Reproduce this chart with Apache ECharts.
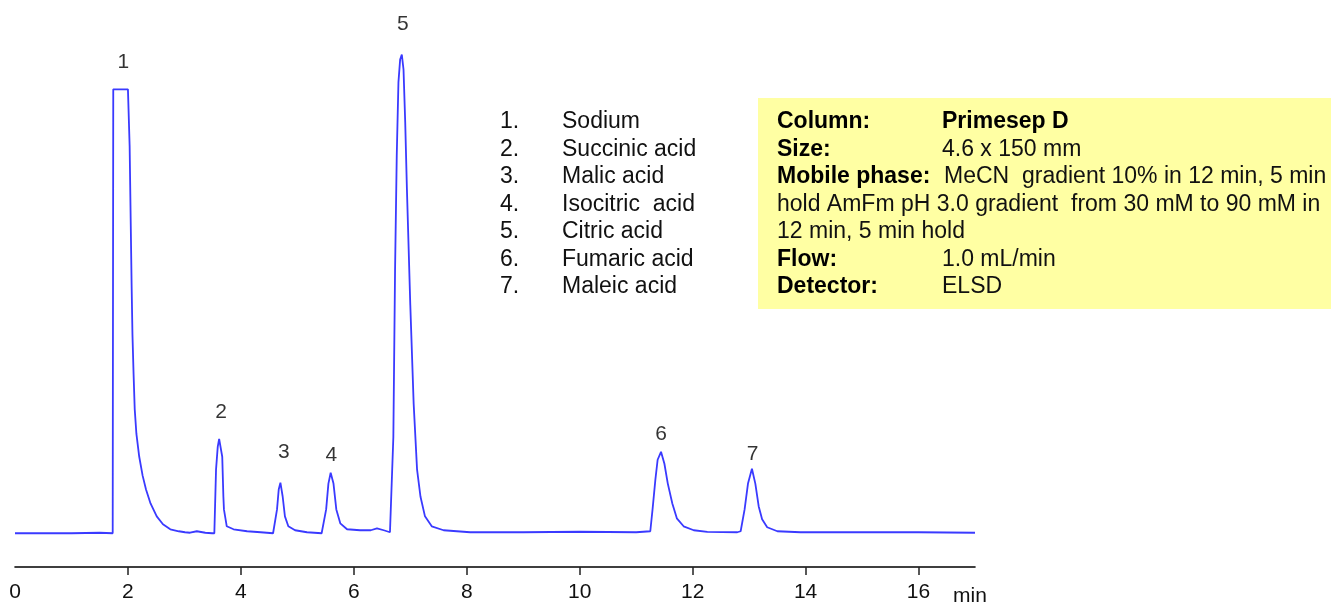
<!DOCTYPE html>
<html>
<head>
<meta charset="utf-8">
<script src="https://cdn.jsdelivr.net/npm/echarts@6/dist/echarts.min.js"></script>
<style>
html,body{margin:0;padding:0;background:#fff;}
#chart{width:1331px;height:603px;}
</style>
</head>
<body>
<div id="chart"></div>
<script>
// Retention time (min) and detector signal (arbitrary units)
var traceTime = [
  0.00, 0.50, 1.00, 1.50, 1.73,
  1.74, 2.00, 2.03, 2.05, 2.065, 2.08, 2.10, 2.12, 2.15, 2.20, 2.26, 2.32, 2.40, 2.51, 2.62, 2.75, 2.90, 3.01, 3.10, 3.22, 3.37, 3.49,
  3.53, 3.56, 3.59, 3.615, 3.63, 3.645, 3.67, 3.69, 3.70, 3.75, 3.87, 4.11, 4.35, 4.57,
  4.59, 4.64, 4.67, 4.70, 4.74, 4.78, 4.84, 4.96, 5.17, 5.43,
  5.45, 5.51, 5.55, 5.59, 5.64, 5.69, 5.76, 5.88, 6.11, 6.30, 6.41, 6.53, 6.64,
  6.67, 6.70, 6.73, 6.76, 6.79, 6.82, 6.85, 6.88, 6.91, 6.94, 7.00, 7.06, 7.12, 7.18, 7.26, 7.38, 7.59, 8.06, 9.00, 10.00, 11.00, 11.25,
  11.29, 11.34, 11.38, 11.44, 11.50, 11.56, 11.64, 11.72, 11.84, 12.02, 12.26, 12.79,
  12.85, 12.92, 12.98, 13.05, 13.11, 13.17, 13.23, 13.32, 13.50, 13.91, 15.00, 16.00, 17.00
];
var traceSignal = [
  0, 0, 0, 0.5, 0,
  447, 447, 390, 310, 250, 200, 160, 125, 100, 77, 58, 44, 30, 17, 9, 4, 2, 1, 0.5, 2, 0.5, 0,
  0, 64, 87, 95, 97, 93, 77, 37, 24, 7, 4, 2, 1, 0,
  0, 24, 44, 51, 37, 17, 7, 3, 1, 0,
  0, 24, 50, 61, 50, 24, 10, 4, 3, 3, 5, 3, 1,
  2, 97, 264, 380, 454, 477, 482, 467, 414, 347, 230, 130, 64, 37, 17, 7, 3, 1, 1, 1.5, 1, 2,
  24, 54, 74, 82, 70, 50, 30, 15, 7, 3, 1.3, 1,
  2, 24, 50, 65, 50, 27, 14, 6, 2, 1, 1, 1, 0.5
];

// Peak number labels
var peakNumbers = ['1', '2', '3', '4', '5', '6', '7'];
var peakLabelTime = [1.92, 3.65, 4.76, 5.60, 6.87, 11.44, 13.06];
var peakLabelHeight = [474, 122, 82, 79, 513, 100, 80];

// Compound list
var legendNumbers = ['1.', '2.', '3.', '4.', '5.', '6.', '7.'];
var legendNames = ['Sodium', 'Succinic acid', 'Malic acid', 'Isocitric  acid', 'Citric acid', 'Fumaric acid', 'Maleic acid'];

// Method conditions
var infoLabels = ['Column:', 'Size:', 'Mobile phase:', '', '', 'Flow:', 'Detector:'];
var infoValues = ['Primesep D', '4.6 x 150 mm', 'MeCN  gradient 10% in 12 min, 5 min', 'hold AmFm pH 3.0 gradient  from 30 mM to 90 mM in', '12 min, 5 min hold', '1.0 mL/min', 'ELSD'];
var infoValueBold = [true, false, false, false, false, false, false];

// x-axis ticks
var tickValues = [0, 2, 4, 6, 8, 10, 12, 14, 16];
var axisUnit = 'min';

var FONT = '"Liberation Sans", Arial, sans-serif';
var FS = 23;
var TXT = '#111';

var lineData = traceTime.map(function (t, i) { return [t, traceSignal[i]]; });
var labelData = peakLabelTime.map(function (t, i) { return { value: [t, peakLabelHeight[i]], name: peakNumbers[i] }; });

var graphics = [];
graphics.push({
  type: 'rect', z: 1,
  shape: { x: 758, y: 98, width: 573, height: 211 },
  style: { fill: '#ffffa3' }
});
var rowY0 = 122, rowStep = 27.5;
legendNumbers.forEach(function (n, i) {
  graphics.push({ type: 'text', z: 5, x: 500, y: rowY0 + i * rowStep,
    style: { text: n, font: FS + 'px ' + FONT, fill: TXT, textVerticalAlign: 'middle', textAlign: 'left' } });
  graphics.push({ type: 'text', z: 5, x: 562, y: rowY0 + i * rowStep,
    style: { text: legendNames[i], font: FS + 'px ' + FONT, fill: TXT, textVerticalAlign: 'middle', textAlign: 'left' } });
});
infoValues.forEach(function (v, i) {
  var y = rowY0 + i * rowStep;
  if (infoLabels[i]) {
    graphics.push({ type: 'text', z: 5, x: 777, y: y,
      style: { text: infoLabels[i], font: 'bold ' + FS + 'px ' + FONT, fill: '#000', textVerticalAlign: 'middle', textAlign: 'left' } });
  }
  var vx = infoLabels[i] ? (i === 2 ? 944 : 942) : 777;
  graphics.push({ type: 'text', z: 5, x: vx, y: y,
    style: { text: v, font: (infoValueBold[i] ? 'bold ' : '') + FS + 'px ' + FONT, fill: infoValueBold[i] ? '#000' : TXT, textVerticalAlign: 'middle', textAlign: 'left' } });
});
graphics.push({ type: 'text', z: 5, x: 970, y: 596,
  style: { text: axisUnit, font: '21px ' + FONT, fill: TXT, textVerticalAlign: 'middle', textAlign: 'center' } });

var chart = echarts.init(document.getElementById('chart'), null, { renderer: 'canvas' });
chart.setOption({
  animation: false,
  backgroundColor: '#ffffff',
  grid: { left: 15, right: 356, top: 0, bottom: 32, containLabel: false },
  xAxis: {
    type: 'value', min: 0, max: 17,
    axisLine: { show: true, onZero: false, lineStyle: { color: '#000', width: 1.6 } },
    axisTick: { show: true, length: 8, inside: false, lineStyle: { color: '#222', width: 1.5 },
      customValues: tickValues.slice(1) },
    axisLabel: { show: true, customValues: tickValues, margin: 15, fontSize: 21, fontFamily: FONT, color: TXT },
    splitLine: { show: false }
  },
  yAxis: {
    type: 'value', min: -34, max: 537, show: false,
    splitLine: { show: false }
  },
  series: [
    {
      type: 'line', data: lineData, showSymbol: false, symbol: 'none', smooth: false,
      lineStyle: { color: '#3a3aff', width: 1.8 }, z: 3
    },
    {
      type: 'scatter', data: labelData, symbolSize: 0, silent: true, z: 4,
      label: { show: true, position: 'inside', formatter: '{b}', fontSize: 21, fontFamily: FONT, color: '#000' }
    }
  ],
  graphic: graphics
});
</script>
</body>
</html>
